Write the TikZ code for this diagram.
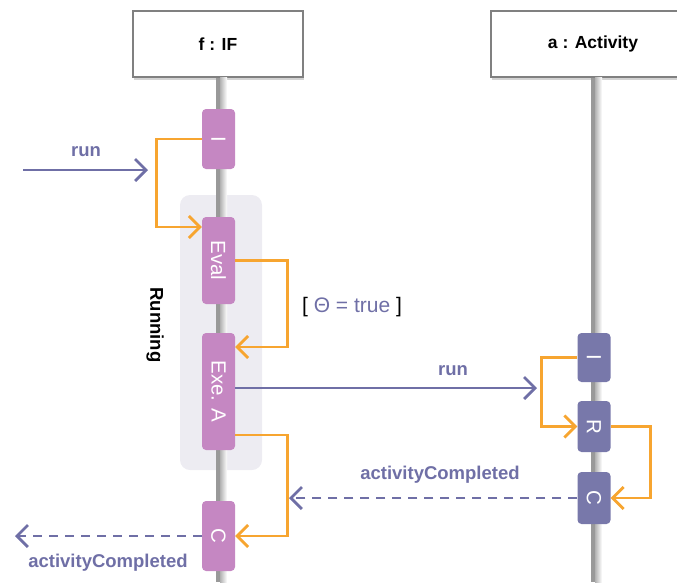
\documentclass[tikz,border=0pt]{standalone}
\usepackage{fontspec}
\usepackage{graphicx}
\setmainfont{Liberation Sans}
\usetikzlibrary{arrows.meta,shadows}
\definecolor{actpink}{HTML}{C587C2}
\definecolor{actslate}{HTML}{7878AA}
\definecolor{flow}{HTML}{F7A530}
\definecolor{msg}{HTML}{6F6FA6}
\definecolor{grpbg}{HTML}{EDECF2}
\definecolor{lline}{HTML}{999999}
\tikzset{
  header/.style={draw=black!50, line width=1.3pt, fill=white, minimum height=66pt,
    font=\fontsize{17.5}{20}\selectfont\bfseries,
    drop shadow={shadow xshift=1pt, shadow yshift=-3pt, opacity=0.35}},
  actbox/.style={rounded corners=4pt, minimum width=33pt, inner sep=0pt, text=white,
    font=\fontsize{20.5}{22}\selectfont},
  pinkbox/.style={actbox, fill=actpink},
  slatebox/.style={actbox, fill=actslate},
  lifeline/.style={draw=lline, line width=3.5pt},
  flowarrow/.style={draw=flow, line width=2.8pt, -{Straight Barb[length=11pt,width=22pt]}},
  msgarrow/.style={draw=msg, line width=2.8pt, -{Straight Barb[length=11pt,width=22pt]}},
  retarrow/.style={msgarrow, dash pattern=on 9pt off 7pt},
  msglabel/.style={text=msg, font=\fontsize{18.5}{20}\selectfont\bfseries},
}
\begin{document}
\begin{tikzpicture}[x=1pt,y=-1pt]
\useasboundingbox (0,0) rectangle (677,582);
\clip (0,0) rectangle (677,582);
% group background
\node[fill=grpbg, rounded corners=10pt, minimum width=82pt, minimum height=275pt, inner sep=0pt] (grp) at (221,332.5) {};
\node[rotate=-90, font=\fontsize{18.5}{20}\selectfont\bfseries] (running) at (155,325) {Running};
% headers
\node[header, minimum width=170pt] (hf) at (218,44) {f : IF};
\node[header, minimum width=204pt] (ha) at (593,44) {a : Activity};
% lifelines
\coordinate (endf) at (218,582);
\coordinate (enda) at (593,582);
\shade[left color=black!30, right color=white] (220,77) rectangle (227,582);
\shade[left color=black!30, right color=white] (595,77) rectangle (602,582);
\draw[lifeline] (hf.south) -- (endf);
\draw[lifeline] (ha.south) -- (enda);
% activation boxes left
\node[pinkbox, minimum height=60pt] (i1) at (218.5,139) {\rotatebox{-90}{I}};
\node[pinkbox, minimum height=87pt] (eval) at (218.5,260.5) {\rotatebox{-90}{Eval}};
\node[pinkbox, minimum height=117pt] (exea) at (218.5,391.5) {\rotatebox{-90}{Exe. A}};
\node[pinkbox, minimum height=70pt] (c1) at (218.5,536) {\rotatebox{-90}{C}};
% activation boxes right
\node[slatebox, minimum height=49pt] (i2) at (594,357.5) {\rotatebox{-90}{I}};
\node[slatebox, minimum height=51pt] (r2) at (594,426.5) {\rotatebox{-90}{R}};
\node[slatebox, minimum height=52pt] (c2) at (594,498) {\rotatebox{-90}{C}};
% control flow
\draw[flowarrow] (i1.west) -- ++(-45,0) |- ([yshift=33.5pt]eval.west);
\draw[flowarrow] (eval.east) -- ++(52,0) |- ([yshift=44.5pt]exea.east);
\draw[flowarrow] ([yshift=-43.5pt]exea.east) -- ++(52,0) |- (c1.east);
\draw[flowarrow] (i2.west) -- ++(-36,0) |- (r2.west);
\draw[flowarrow] (r2.east) -- ++(40,0) |- (c2.east);
% messages
\coordinate (runstart) at (23,170);
\coordinate (runend) at (148,170);
\draw[msgarrow] (runstart) -- (runend);
\node[msglabel] (runlbl) at (86,152) {run};
\coordinate (run2end) at (537,388);
\draw[msgarrow] ([yshift=3.5pt]exea.east) -- (run2end);
\node[msglabel] (run2lbl) at (453,371) {run};
\coordinate (ac1end) at (289,498);
\draw[retarrow] (c2.west) -- (ac1end);
\node[msglabel] (ac1lbl) at (440,475) {activityCompleted};
\coordinate (ac2end) at (15,536);
\draw[retarrow] (c1.west) -- (ac2end);
\node[msglabel] (ac2lbl) at (108,563) {activityCompleted};
% guard
\node[font=\fontsize{21}{23}\selectfont] (guard) at (352,307) {[ \textcolor{msg}{Θ = true} ]};
\end{tikzpicture}
\end{document}
